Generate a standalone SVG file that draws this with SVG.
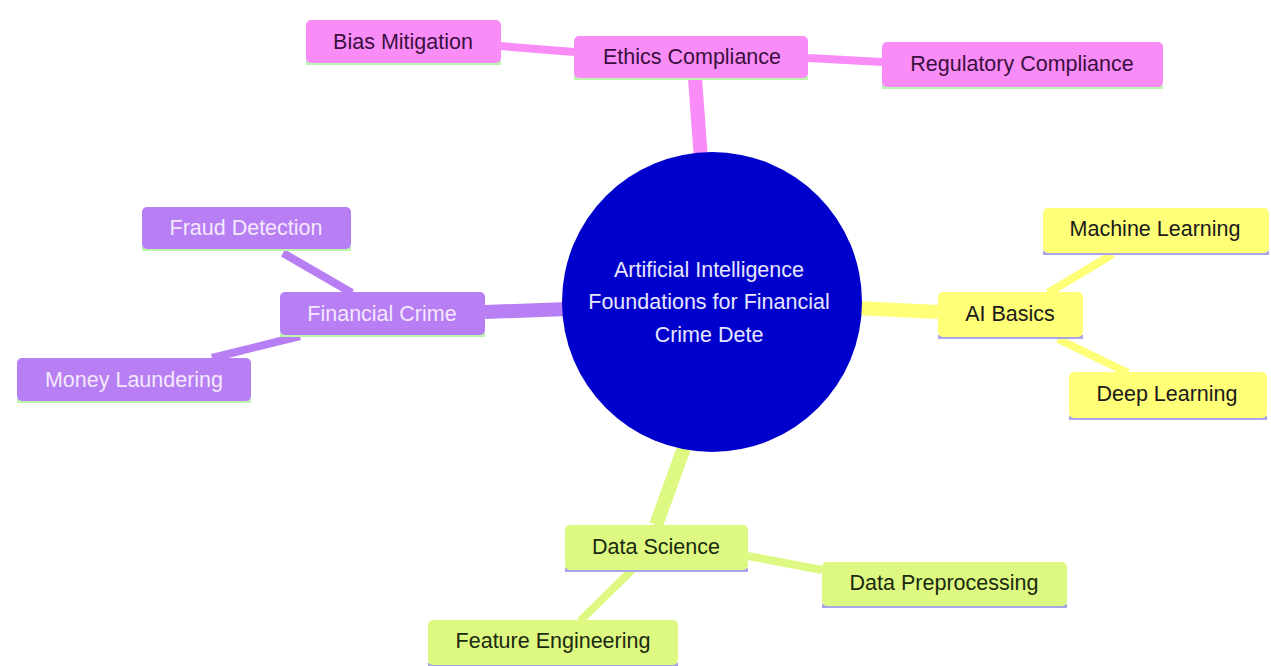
<svg xmlns="http://www.w3.org/2000/svg" width="1271" height="666" viewBox="0 0 1271 666">
<style>
  text { font-family: "Liberation Sans", Arial, sans-serif; font-size: 21.5px; text-anchor: middle; dominant-baseline: central; }
  .pink rect.box { fill: #f98cf6; }
  .pink text { fill: #3a1040; }
  .purple rect.box { fill: #b77ff3; }
  .purple text { fill: #f4e8ff; }
  .yellow rect.box { fill: #ffff78; }
  .yellow text { fill: #1a1a1a; }
  .green rect.box { fill: #ddf982; }
  .green text { fill: #1a2a10; }
  .line-g { fill: #bdf5b0; }
  .line-l { fill: #a9a6e8; }
  .c-pink { stroke: #f98cf6; }
  .c-purple { stroke: #b77ff3; }
  .c-yellow { stroke: #ffff78; }
  .c-green { stroke: #ddf982; }
  .main { stroke-width: 14; fill: none; }
  .sub { stroke-width: 8; fill: none; }
</style>
<rect width="1271" height="666" fill="#ffffff"/>
<g id="connectors">
  <line class="c-pink main" x1="695" y1="78" x2="701" y2="160"/>
  <line class="c-purple main" x1="485" y1="312" x2="568" y2="309"/>
  <line class="c-yellow main" x1="855" y1="308" x2="938" y2="312"/>
  <line class="c-green main" x1="684" y1="448" x2="656" y2="525"/>
  <line class="c-pink sub" x1="500" y1="46" x2="574" y2="52"/>
  <line class="c-pink sub" x1="808" y1="58" x2="882" y2="62"/>
  <line class="c-purple sub" x1="283" y1="253" x2="352" y2="293"/>
  <line class="c-purple sub" x1="212" y1="358" x2="300" y2="336"/>
  <line class="c-yellow sub" x1="1113" y1="254" x2="1048" y2="293"/>
  <line class="c-yellow sub" x1="1058" y1="339" x2="1128" y2="373"/>
  <line class="c-green sub" x1="748" y1="556" x2="822" y2="570"/>
  <line class="c-green sub" x1="580" y1="621" x2="632" y2="570"/>
</g>
<g id="root">
  <circle cx="712" cy="302" r="150" fill="#0000cc"/>
  <text x="709" y="270" fill="#e6e6ff">Artificial Intelligence</text>
  <text x="709" y="302" fill="#e6e6ff">Foundations for Financial</text>
  <text x="709" y="335" fill="#e6e6ff">Crime Dete</text>
</g>
<g id="ethics-compliance" class="pink">
  <rect class="line-g" x="574" y="76" width="234" height="4"/>
  <rect class="box" x="574" y="36" width="234" height="42" rx="5"/>
  <text x="692" y="57">Ethics Compliance</text>
</g>
<g id="bias-mitigation" class="pink">
  <rect class="line-g" x="306" y="61" width="195" height="4"/>
  <rect class="box" x="306" y="20" width="195" height="43" rx="5"/>
  <text x="403" y="42">Bias Mitigation</text>
</g>
<g id="regulatory-compliance" class="pink">
  <rect class="line-g" x="882" y="85" width="281" height="4"/>
  <rect class="box" x="882" y="42" width="281" height="45" rx="5"/>
  <text x="1022" y="64">Regulatory Compliance</text>
</g>
<g id="financial-crime" class="purple">
  <rect class="line-g" x="280" y="333" width="205" height="4"/>
  <rect class="box" x="280" y="292" width="205" height="43" rx="5"/>
  <text x="382" y="314">Financial Crime</text>
</g>
<g id="fraud-detection" class="purple">
  <rect class="line-g" x="142" y="247" width="209" height="4"/>
  <rect class="box" x="142" y="207" width="209" height="42" rx="5"/>
  <text x="246" y="228">Fraud Detection</text>
</g>
<g id="money-laundering" class="purple">
  <rect class="line-g" x="17" y="399" width="234" height="4"/>
  <rect class="box" x="17" y="358" width="234" height="43" rx="5"/>
  <text x="134" y="380">Money Laundering</text>
</g>
<g id="ai-basics" class="yellow">
  <rect class="line-l" x="938" y="335" width="145" height="4"/>
  <rect class="box" x="938" y="292" width="145" height="45" rx="5"/>
  <text x="1010" y="314">AI Basics</text>
</g>
<g id="machine-learning" class="yellow">
  <rect class="line-l" x="1043" y="251" width="226" height="4"/>
  <rect class="box" x="1043" y="208" width="226" height="45" rx="5"/>
  <text x="1155" y="229">Machine Learning</text>
</g>
<g id="deep-learning" class="yellow">
  <rect class="line-l" x="1069" y="416" width="198" height="4"/>
  <rect class="box" x="1069" y="372" width="198" height="46" rx="5"/>
  <text x="1167" y="394">Deep Learning</text>
</g>
<g id="data-science" class="green">
  <rect class="line-l" x="565" y="568" width="183" height="4"/>
  <rect class="box" x="565" y="525" width="183" height="45" rx="5"/>
  <text x="656" y="547">Data Science</text>
</g>
<g id="data-preprocessing" class="green">
  <rect class="line-l" x="822" y="604" width="245" height="4"/>
  <rect class="box" x="822" y="562" width="245" height="44" rx="5"/>
  <text x="944" y="583">Data Preprocessing</text>
</g>
<g id="feature-engineering" class="green">
  <rect class="line-l" x="428" y="663" width="250" height="4"/>
  <rect class="box" x="428" y="620" width="250" height="45" rx="5"/>
  <text x="553" y="641">Feature Engineering</text>
</g>
</svg>
